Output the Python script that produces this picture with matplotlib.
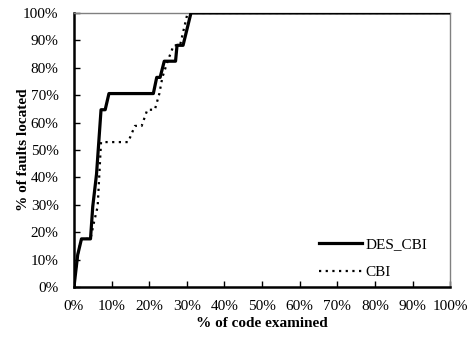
import matplotlib
matplotlib.use("Agg")
import matplotlib.pyplot as plt
from matplotlib.ticker import PercentFormatter

# % of code examined vs % of faults located (17 faults)
des_x = [0, 1.0, 2.0, 4.4, 5.0, 6.0, 6.6, 7.2, 8.3, 9.3, 21.1, 22.0, 22.9, 24.0, 27.0, 27.4, 29.0, 31.1, 100]
des_y = [0, 11.8, 17.6, 17.6, 29.4, 41.2, 52.9, 64.7, 64.7, 70.6, 70.6, 76.5, 76.5, 82.4, 82.4, 88.2, 88.2, 100, 100]

cbi_x = [0, 1.0, 2.0, 4.4, 5.3, 6.3, 7.2, 14.4, 16.2, 18.0, 19.5, 21.5, 22.7, 23.5, 24.9, 26.5, 28.2, 29.2, 30.2, 100]
cbi_y = [0, 11.8, 17.6, 17.6, 23.5, 29.4, 52.9, 52.9, 58.8, 58.8, 64.7, 64.7, 70.6, 76.5, 82.4, 88.2, 88.2, 94.1, 100, 100]

x_ticks = list(range(0, 101, 10))
y_ticks = list(range(0, 101, 10))

plt.rcParams["font.family"] = ["Liberation Serif", "DejaVu Serif"]

fig = plt.figure(figsize=(4.68, 3.41), dpi=100)
ax = fig.add_axes([0.158, 0.158, 0.804, 0.804])

ax.plot(des_x, des_y, color="black", lw=2.3, ls="-", label="DES_CBI", zorder=3)
ax.plot(cbi_x, cbi_y, color="black", lw=1.6, ls=(0, (1, 2)), label="CBI", zorder=2)

ax.set_xlim(0, 100)
ax.set_ylim(0, 100)
ax.set_xticks(x_ticks)
ax.set_yticks(y_ticks)
ax.xaxis.set_major_formatter(PercentFormatter(decimals=0))
ax.yaxis.set_major_formatter(PercentFormatter(decimals=0))
ax.tick_params(direction="in", length=4, width=1, labelsize=11)
ax.tick_params(axis="x", pad=9)
ax.tick_params(axis="y", pad=11)

for s in ["left", "bottom"]:
    ax.spines[s].set_linewidth(1.8)
    ax.spines[s].set_color("black")
for s in ["top", "right"]:
    ax.spines[s].set_linewidth(1.0)
    ax.spines[s].set_color("#808080")

ax.set_xlabel("% of code examined", fontsize=11, fontweight="bold", labelpad=3)
ax.set_ylabel("% of faults located", fontsize=11, fontweight="bold", labelpad=-5)

ax.legend(loc="lower right", frameon=False, fontsize=11, handlelength=2.8,
          handletextpad=0.2, borderaxespad=0.1, labelspacing=0.95,
          bbox_to_anchor=(0.959, 0.0))

fig.savefig("out.png", dpi=100)
